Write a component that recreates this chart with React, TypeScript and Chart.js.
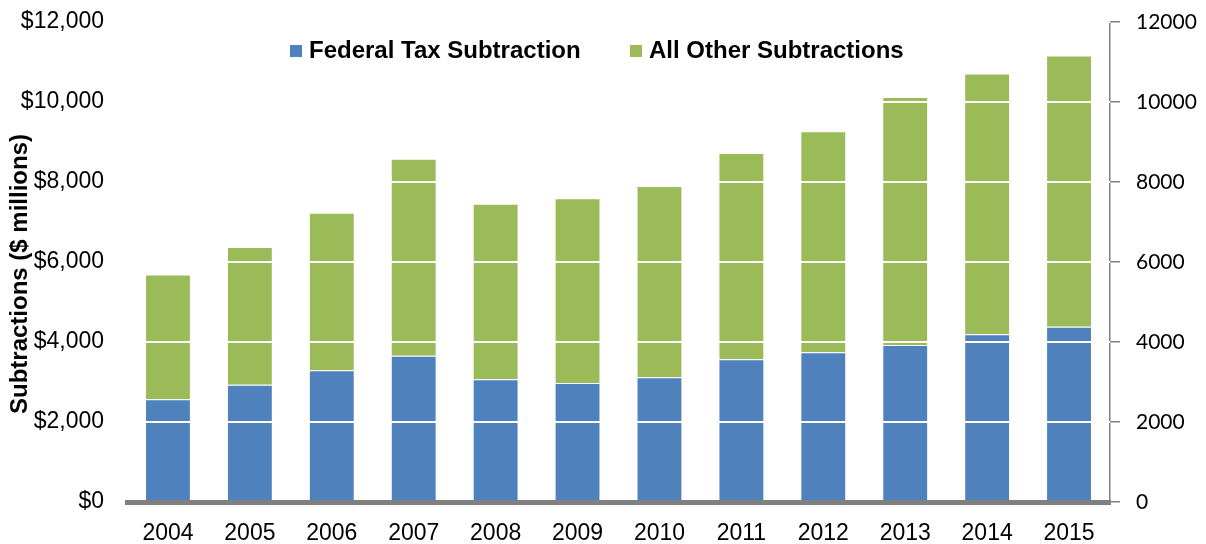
import React, { useEffect, useRef } from 'react';
import { Chart, registerables } from 'chart.js';

Chart.register(...registerables);

const years = ['2004', '2005', '2006', '2007', '2008', '2009', '2010', '2011', '2012', '2013', '2014', '2015'];
const federalTax = [2567, 2933, 3292, 3658, 3067, 2975, 3117, 3567, 3742, 3925, 4192, 4383];
const allOther = [3123, 3442, 3941, 4925, 4391, 4617, 4783, 5158, 5525, 6200, 6518, 6777];
const seriesNames = ['Federal Tax Subtraction', 'All Other Subtractions'];
const seriesColors = ['#4F81BD', '#9BBB59'];
const axisTitle = 'Subtractions ($ millions)';
const axisMin = 0;
const axisMax = 12000;
const axisStep = 2000;

const overlayPlugin = {
  id: 'overlay',
  afterDraw(chart: any) {
    const ctx = chart.ctx;
    const area = chart.chartArea;
    ctx.save();
    // legend
    ctx.font = 'bold 24px "Liberation Sans", Arial, sans-serif';
    ctx.textBaseline = 'middle';
    ctx.textAlign = 'left';
    const legendY = area.top + 29;
    const starts = [area.left + 163, area.left + 503];
    seriesNames.forEach((name, i) => {
      const x = starts[i];
      ctx.fillStyle = seriesColors[i];
      ctx.fillRect(x, legendY - 6, 12, 12);
      ctx.fillStyle = '#000';
      ctx.fillText(name, x + 19, legendY);
    });
    // y axis title
    ctx.translate(20, (area.top + area.bottom) / 2 + 12);
    ctx.rotate(-Math.PI / 2);
    ctx.textAlign = 'center';
    ctx.font = 'bold 24px "Liberation Sans", Arial, sans-serif';
    ctx.fillText(axisTitle, 0, 0);
    ctx.restore();
  },
};

export default function App() {
  const ref = useRef<HTMLCanvasElement | null>(null);
  useEffect(() => {
    if (!ref.current) return;
    const chart = new Chart(ref.current, {
      type: 'bar',
      data: {
        labels: years,
        datasets: [
          {
            label: seriesNames[0],
            data: federalTax,
            backgroundColor: seriesColors[0],
            borderColor: 'rgba(255,255,255,0.55)',
            borderWidth: 1,
            barPercentage: 0.56,
            categoryPercentage: 1,
            yAxisID: 'y',
          },
          {
            label: seriesNames[1],
            data: allOther,
            backgroundColor: seriesColors[1],
            borderColor: 'rgba(255,255,255,0.55)',
            borderWidth: 1,
            barPercentage: 0.56,
            categoryPercentage: 1,
            yAxisID: 'y',
          },
        ],
      },
      options: {
        animation: false,
        responsive: true,
        maintainAspectRatio: false,
        layout: { padding: { top: 22, left: 0, right: 0, bottom: 0 } },
        plugins: {
          legend: { display: false },
          tooltip: { enabled: false },
        },
        scales: {
          x: {
            stacked: true,
            grid: { display: false, drawTicks: false },
            border: { display: true, color: '#808080', width: 5, z: 2 },
            ticks: {
              color: '#000',
              padding: 18,
              font: { family: '"Liberation Sans", Arial, sans-serif', size: 23 },
            },
            afterFit(scale: any) {
              scale.height = 42;
              scale.paddingLeft = 0;
              scale.paddingRight = 0;
            },
          },
          y: {
            stacked: true,
            position: 'left',
            min: axisMin,
            max: axisMax,
            grid: { color: '#ffffff', lineWidth: 2, drawTicks: false, z: 1 },
            border: { display: false },
            ticks: {
              stepSize: axisStep,
              color: '#000',
              padding: 23,
              font: { family: '"Liberation Sans", Arial, sans-serif', size: 23 },
              callback: (v: any) => '$' + Number(v).toLocaleString('en-US'),
            },
            afterFit(scale: any) {
              scale.width = 127;
              scale.paddingTop = 0;
              scale.paddingBottom = 0;
            },
          },
          y2: {
            position: 'right',
            min: axisMin,
            max: axisMax,
            grid: { drawOnChartArea: false, drawTicks: true, tickLength: 10, color: '#808080', lineWidth: 1.5 },
            border: { display: true, color: '#808080', width: 1.5 },
            ticks: {
              stepSize: axisStep,
              color: '#000',
              padding: 16,
              font: { family: 'Lato, "Open Sans", sans-serif', size: 21 },
              callback: (v: any) => String(v),
            },
            afterFit(scale: any) {
              scale.width = 96;
              scale.paddingTop = 0;
              scale.paddingBottom = 0;
            },
          },
        },
      },
      plugins: [overlayPlugin],
    });
    return () => chart.destroy();
  }, []);
  return (
    <div style={{ position: 'fixed', left: 0, top: 0, width: 1206, height: 544, background: '#fff' }}>
      <canvas ref={ref} />
    </div>
  );
}
